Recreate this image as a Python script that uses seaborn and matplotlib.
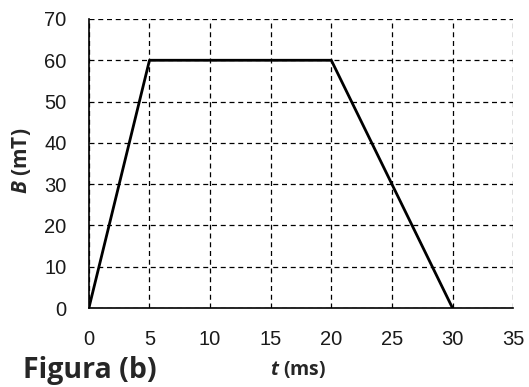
import pandas as pd
import numpy as np
import matplotlib.pyplot as plt
import seaborn as sns

# data
t_ms = [0, 5, 20, 30]
b_mt = [0, 60, 60, 0]
x_ticks = [0, 5, 10, 15, 20, 25, 30, 35]
y_ticks = [0, 10, 20, 30, 40, 50, 60, 70]

df = pd.DataFrame({"t": t_ms, "B": b_mt})

sns.set_theme(style="white")
plt.rcParams['font.family'] = ['Liberation Sans', 'DejaVu Sans']
# bold italic symbols for the axis labels
plt.rcParams['mathtext.fontset'] = 'custom'
plt.rcParams['mathtext.it'] = 'Open Sans:italic:bold'
plt.rcParams['mathtext.rm'] = 'Open Sans:bold'

fig = plt.figure(figsize=(5.29, 3.87), dpi=100)
ax = fig.add_axes([0.168, 0.204, 0.802, 0.747])

sns.lineplot(data=df, x="t", y="B", color="black", linewidth=2, ax=ax, zorder=3)

ax.set_xlim(0, 35)
ax.set_ylim(0, 70)
ax.set_xticks(x_ticks)
ax.set_yticks(y_ticks)
ax.tick_params(labelsize=14.5, length=0, colors="#1a1a1a")
ax.tick_params(axis="y", pad=16)
ax.tick_params(axis="x", pad=16)

ax.grid(True, color="black", linestyle=(0, (4, 3)), linewidth=0.9)
for s in ["top", "right"]:
    ax.spines[s].set_visible(False)
for s in ["left", "bottom"]:
    ax.spines[s].set_color("black")
    ax.spines[s].set_linewidth(1.2)
    ax.spines[s].set_zorder(4)

ax.set_xlabel("")
ax.set_ylabel("")

fig.text(0.563, 0.030, r"$t$ (ms)", fontsize=14, ha="center", va="baseline",
         fontweight="bold", family=["Open Sans", "DejaVu Sans"])
fig.text(0.040, 0.585, r"$B$ (mT)", fontsize=15, rotation=90, ha="center", va="center",
         fontweight="bold", family=["Open Sans", "DejaVu Sans"])

fig.text(0.043, 0.023, "Figura (b)", fontsize=20.5, fontweight="bold",
         ha="left", va="baseline", family=["Open Sans", "DejaVu Sans"])

fig.savefig("out.png", dpi=100)
